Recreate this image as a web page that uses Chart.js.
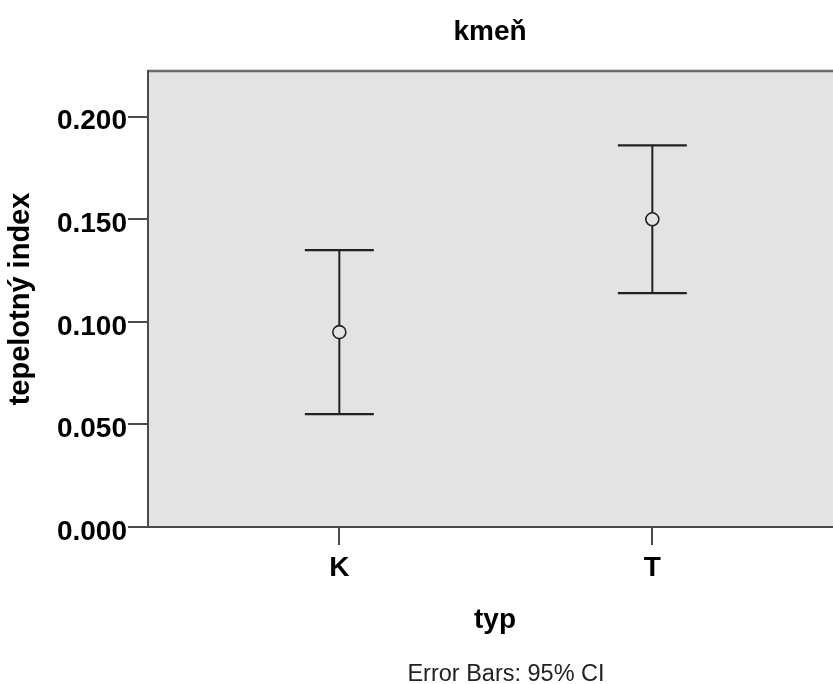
<!DOCTYPE html>
<html>
<head>
<meta charset="utf-8">
<script src="https://cdn.jsdelivr.net/npm/chart.js@4"></script>
<style>
  html, body { margin: 0; padding: 0; background: #fff; overflow: hidden; }
  #errChart { display: block; width: 833px; height: 684px; }
</style>
</head>
<body>
<canvas id="errChart" width="833" height="684"></canvas>
<script>
// ========== DATA ==========
const categories = ["K", "T"];
const means = [0.095, 0.150];
const ciLow = [0.055, 0.114];
const ciHigh = [0.135, 0.186];
const yTicks = [0, 0.05, 0.10, 0.15, 0.20];

const chartTitle = "kmeň";
const xTitle = "typ";
const yTitle = "tepelotný index";
const footNote = "Error Bars: 95% CI";

const plotBg = "#e3e3e3";
const ink = "#222";
const axisColor = "#4a4a4a";
const fontFamily = "'Liberation Sans', Arial, sans-serif";

// ========== PLOT BACKGROUND + CAPTIONS ==========
// the plot runs past the right edge of the picture, so only the top line is drawn
const framePlugin = {
  id: "frame",
  beforeDraw: function (chart) {
    const a = chart.chartArea;
    const c = chart.ctx;
    c.save();
    c.fillStyle = plotBg;
    c.fillRect(a.left, a.top, a.right - a.left, a.bottom - a.top);
    c.strokeStyle = "#6a6a6a";
    c.lineWidth = 2.5;
    c.beginPath();
    c.moveTo(a.left, a.top);
    c.lineTo(a.right, a.top);
    c.stroke();
    c.restore();
  },
  afterDraw: function (chart) {
    const c = chart.ctx;
    c.save();
    c.fillStyle = "#000";
    c.textAlign = "center";
    c.textBaseline = "alphabetic";
    c.font = "bold 28px " + fontFamily;
    c.fillText(chartTitle, 490, 40);
    c.fillText(xTitle, 495, 628);
    c.fillStyle = "#222";
    c.font = "23.5px " + fontFamily;
    c.fillText(footNote, 506, 681);
    c.restore();
  }
};

// ========== DATASETS ==========
const whiskers = categories.map(function (c, i) {
  return {
    type: "line",
    data: [{ x: i, y: ciLow[i] }, { x: i, y: ciHigh[i] }],
    borderColor: ink,
    borderWidth: 2,
    pointRadius: 0,
    fill: false
  };
});

const caps = {
  data: categories.flatMap(function (c, i) {
    return [{ x: i, y: ciLow[i] }, { x: i, y: ciHigh[i] }];
  }),
  pointStyle: "line",
  pointRadius: 34.5,
  borderColor: ink,
  borderWidth: 2.2,
  showLine: false
};

const meanPoints = {
  data: categories.map(function (c, i) {
    return { x: i, y: means[i] };
  }),
  pointStyle: "circle",
  pointRadius: 6.5,
  borderColor: ink,
  borderWidth: 1.6,
  backgroundColor: plotBg,
  showLine: false
};

const ctx = document.getElementById("errChart");

new Chart(ctx, {
  type: "scatter",
  data: {
    datasets: [meanPoints, caps].concat(whiskers)
  },
  plugins: [framePlugin],
  options: {
    responsive: false,
    animation: false,
    events: [],
    layout: {
      autoPadding: false,
      padding: { top: 71, right: 0, bottom: 0, left: 0 }
    },
    plugins: {
      legend: { display: false },
      tooltip: { enabled: false },
      title: { display: false }
    },
    scales: {
      x: {
        type: "linear",
        min: -0.6113,
        max: 1.5772,
        afterBuildTicks: function (scale) {
          scale.ticks = categories.map(function (c, i) { return { value: i }; });
        },
        afterFit: function (scale) {
          scale.height = 157;
        },
        grid: {
          drawOnChartArea: false,
          drawTicks: true,
          tickLength: 18,
          color: axisColor,
          lineWidth: 2
        },
        border: { display: true, color: axisColor, width: 2 },
        ticks: {
          autoSkip: false,
          maxRotation: 0,
          padding: 6,
          color: "#000",
          font: { family: fontFamily, size: 28, weight: "bold" },
          callback: function (v) { return categories[v]; }
        },
        title: { display: false }
      },
      y: {
        min: 0,
        max: 0.2223,
        afterBuildTicks: function (scale) {
          scale.ticks = yTicks.map(function (v) { return { value: v }; });
        },
        afterFit: function (scale) {
          scale.width = 148;
        },
        grid: {
          drawOnChartArea: false,
          drawTicks: true,
          tickLength: 20,
          color: axisColor,
          lineWidth: 2
        },
        border: { display: true, color: axisColor, width: 2 },
        ticks: {
          padding: 1,
          labelOffset: 5,
          color: "#000",
          font: { family: fontFamily, size: 28, weight: "bold" },
          callback: function (v) { return v.toFixed(3); }
        },
        title: {
          display: true,
          text: yTitle,
          color: "#000",
          font: { family: fontFamily, size: 29, weight: "bold" },
          padding: { top: 4, bottom: 4 }
        }
      }
    }
  }
});
</script>
</body>
</html>
